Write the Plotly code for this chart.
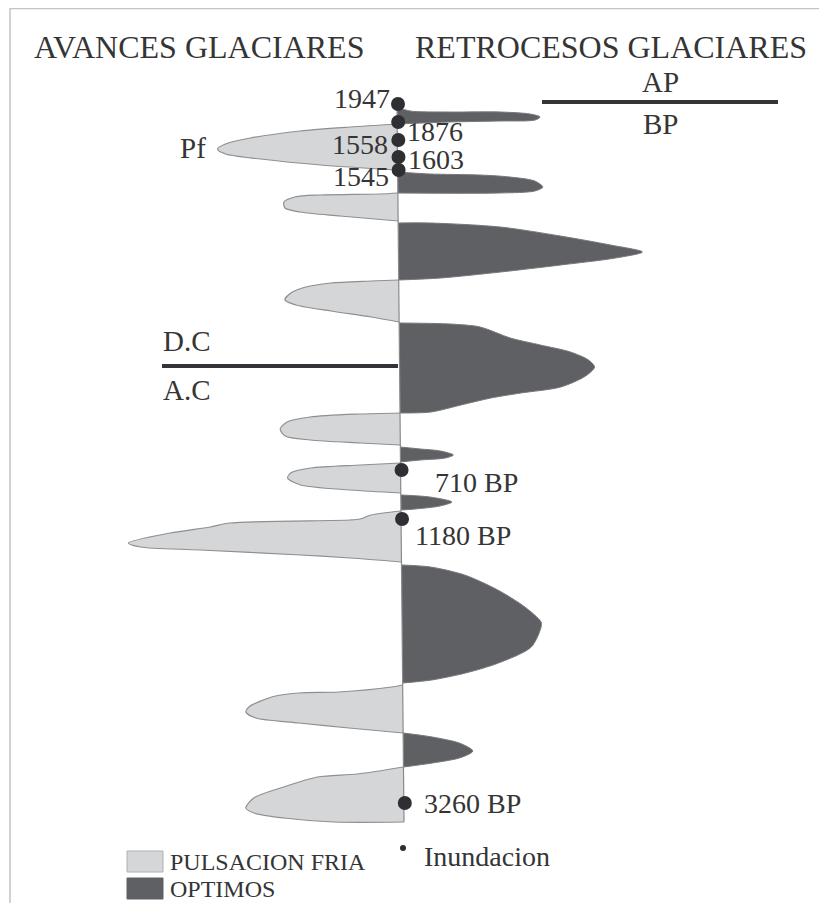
import plotly.graph_objects as go

W, H = 827, 911
PAGE_MARGIN = 8  # the browser's default body margin

# ---------------- DATA ----------------
# Each lobe: outline as (vertical position, amplitude); negative = glacier advance (cold pulse), positive = retreat (optimum)
fria_1 = [(124, 0), (127, -47), (131, -97), (138, -147), (144, -172), (149, -180), (154, -172), (159, -137), (165, -77), (170, 0)]
fria_2 = [(193, 0), (194, -18), (195, -78), (197, -103), (202, -114), (208, -113), (212, -98), (216, -58), (221, 0)]
fria_3 = [(280, 0), (281, -28), (283, -68), (287, -93), (293, -108), (300, -114), (305, -103), (311, -68), (317, -28), (322, 0)]
fria_4 = [(413, 0), (414, -40), (417, -90), (422, -113), (429, -120), (436, -115), (440, -90), (443, -40), (445, 0)]
fria_5 = [(463, 0), (465, -40), (468, -90), (473, -110), (478, -113), (485, -100), (490, -50), (493, 0)]
fria_6 = [(511, 0), (515, -30), (519, -41), (520, -51), (523, -171), (527, -191), (533, -231), (543, -273), (547, -261), (550, -201), (555, -101), (558, -51), (562, 0)]
fria_7 = [(685, 0), (687, -11), (692, -64), (693, -104), (697, -131), (707, -154), (712, -157), (718, -147), (723, -104), (728, -54), (733, 0)]
fria_8 = [(767, 0), (774, -46), (777, -86), (787, -120), (798, -150), (808, -158), (813, -150), (818, -120), (822, -70), (822, 0)]

optimo_1 = [(107, 0), (111, 13), (112, 53), (112, 103), (114, 133), (117, 143), (120, 138), (121, 103), (122, 53), (124, 0)]
optimo_2 = [(172, 0), (174, 32), (175, 82), (177, 112), (181, 137), (187, 145), (191, 137), (193, 102), (193, 0)]
optimo_3 = [(223, 0), (223, 32), (227, 102), (236, 162), (245, 212), (252, 244), (258, 217), (265, 162), (272, 102), (278, 42), (280, 0)]
optimo_4 = [(323, 0), (324, 51), (327, 81), (338, 111), (345, 141), (352, 171), (360, 189), (367, 195), (376, 186), (387, 161), (393, 121), (398, 91), (405, 61), (412, 31), (413, 0)]
optimo_5 = [(447, 0), (449, 20), (451, 40), (455, 53), (458, 45), (460, 20), (462, 0)]
optimo_6 = [(495, 0), (497, 29), (502, 51), (506, 39), (509, 14), (510, 0)]
optimo_7 = [(565, 0), (567, 29), (575, 63), (590, 96), (607, 123), (622, 139), (627, 139), (647, 129), (663, 96), (673, 63), (680, 29), (683, 0)]
optimo_8 = [(733, 0), (737, 29), (743, 56), (750, 69), (752, 69), (758, 56), (763, 29), (767, 0)]

fria_lobes = [fria_1, fria_2, fria_3, fria_4, fria_5, fria_6, fria_7, fria_8]
optimo_lobes = [optimo_1, optimo_2, optimo_3, optimo_4, optimo_5, optimo_6, optimo_7, optimo_8]

# Floods (Inundacion)
inund_labels = ["1947", "1876", "1558", "1603", "1545", "710 BP", "1180 BP", "3260 BP"]
inund_pos = [104, 122, 140, 157, 170, 470, 519, 803]

axis_top, axis_bottom = 104, 822
ap_bp_pos = 102
dc_ac_pos = 366

# ---------------- STYLE / LAYOUT ----------------
X0 = 397  # pixel column of the zero line at the top
FONT = "Liberation Serif, Times New Roman, serif"
TXT = "#353535"
LIGHT = "#d5d6d8"
DARK = "#5f6064"
EDGE = "#8e8f93"


def base(y):
    # the zero line leans very slightly to the right towards the bottom
    return 7.0 * (y - 105) / 717.0


fig = go.Figure()

for lobe in fria_lobes:
    ys = [p[0] for p in lobe]
    xs = [base(p[0]) + p[1] for p in lobe]
    fig.add_trace(go.Scatter(x=xs, y=ys, mode="lines", fill="toself", fillcolor=LIGHT,
                             line=dict(color=EDGE, width=1.2, shape="spline", smoothing=0.8),
                             hoverinfo="skip"))
for lobe in optimo_lobes:
    ys = [p[0] for p in lobe]
    xs = [base(p[0]) + p[1] for p in lobe]
    fig.add_trace(go.Scatter(x=xs, y=ys, mode="lines", fill="toself", fillcolor=DARK,
                             line=dict(color="#77787c", width=1, shape="spline", smoothing=0.8),
                             hoverinfo="skip"))

# zero line
fig.add_trace(go.Scatter(x=[base(axis_top), base(axis_bottom)], y=[axis_top, axis_bottom], mode="lines",
                         line=dict(color="#8a8a8a", width=1.2), hoverinfo="skip"))

# flood dots
fig.add_trace(go.Scatter(x=[base(y) + 1 for y in inund_pos], y=inund_pos, mode="markers",
                         marker=dict(size=14, color="#2e2f33"), hoverinfo="skip"))

# flood labels (side, dx, dy in pixels)
label_place = {
    "1947": ("right", -5, -6),
    "1876": ("left", 8, 9),
    "1558": ("right", -7, 4),
    "1603": ("left", 8, 2),
    "1545": ("right", -7, 6),
    "710 BP": ("left", 32, 12),
    "1180 BP": ("left", 12, 16),
    "3260 BP": ("left", 18, 0),
}
for lab, y in zip(inund_labels, inund_pos):
    side, dx, dy = label_place[lab]
    fig.add_annotation(x=base(y) + dx, y=y + dy, text=lab, showarrow=False,
                       xanchor=side, yanchor="middle", font=dict(family=FONT, size=28, color=TXT))


def px(xpix):
    return xpix - X0


def txt(xpix, y, s, size, anchor="center"):
    fig.add_annotation(x=px(xpix), y=y, text=s, showarrow=False, xanchor=anchor, yanchor="middle",
                       font=dict(family=FONT, size=size, color=TXT))


txt(199, 47, "AVANCES GLACIARES", 32)
txt(611, 47, "RETROCESOS GLACIARES", 32)
txt(660, 82, "AP", 29)
txt(660, 124, "BP", 29)
txt(208, 148, "Pf", 29, "right")
txt(161, 341, "D.C", 29, "left")
txt(161, 390, "A.C", 29, "left")

# AP/BP and DC/AC separators
fig.add_shape(type="line", x0=px(542), x1=px(778), y0=ap_bp_pos, y1=ap_bp_pos, line=dict(color="#333438", width=4))
fig.add_shape(type="line", x0=px(162), x1=px(398), y0=dc_ac_pos, y1=dc_ac_pos, line=dict(color="#333438", width=4))

# frame
fig.add_shape(type="rect", x0=px(10), x1=px(820), y0=8.5, y1=930, line=dict(color="#c4c4c4", width=1.5))

# legend
fig.add_shape(type="rect", x0=px(127), x1=px(163), y0=851, y1=872, fillcolor=LIGHT, line=dict(color="#b0b0b0", width=1))
fig.add_shape(type="rect", x0=px(127), x1=px(163), y0=878, y1=899, fillcolor=DARK, line=dict(color=DARK, width=1))
txt(168, 862, "PULSACION FRIA", 24, "left")
txt(168, 889, "OPTIMOS", 24, "left")
fig.add_trace(go.Scatter(x=[px(403)], y=[848], mode="markers", marker=dict(size=6, color="#2e2f33"), hoverinfo="skip"))
txt(422, 856, "Inundacion", 28, "left")

# the figure occupies page pixels [8, W-8] x [8, H-8]; axes are in page pixels
fw, fh = W - 2 * PAGE_MARGIN, H - 2 * PAGE_MARGIN
fig.update_xaxes(range=[PAGE_MARGIN - X0, PAGE_MARGIN + fw - X0], visible=False, fixedrange=True)
fig.update_yaxes(range=[PAGE_MARGIN + fh, PAGE_MARGIN], visible=False, fixedrange=True)
fig.update_layout(width=fw, height=fh, margin=dict(l=0, r=0, t=0, b=0), showlegend=False,
                  plot_bgcolor="white", paper_bgcolor="white")

fig.write_html("out.html")
